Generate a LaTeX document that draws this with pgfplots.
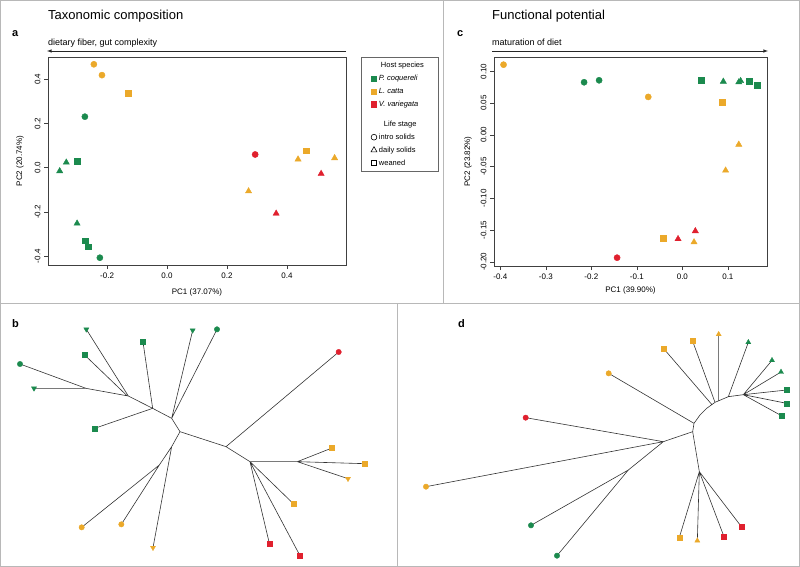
\documentclass[border=0pt]{standalone}
\usepackage{pgfplots}
\pgfplotsset{compat=1.18}
\usepackage{fontspec}
\setmainfont{Liberation Sans}
\definecolor{pgreen}{HTML}{1B8A4E}
\definecolor{lorange}{HTML}{EBA92A}
\definecolor{vred}{HTML}{E0202E}
\definecolor{framegray}{HTML}{B8B8B8}
\pgfplotsset{
  pca/.style={scale only axis, clip=false,
    axis line style={black!75, line width=0.6pt},
    tick style={black!75, line width=0.5pt},
    tick align=outside, major tick length=4pt, tick pos=left,
    tick label style={font=\fontsize{8}{9}\selectfont},
    label style={font=\fontsize{8}{9}\selectfont},
    /pgf/number format/assume math mode=true,
    yticklabel style={rotate=90, anchor=south},
  },
  gc/.style={only marks, forget plot, mark=*, mark size=3.1pt, color=pgreen},
  gs/.style={only marks, forget plot, mark=square*, mark size=2.9pt, color=pgreen},
  gt/.style={only marks, forget plot, mark=triangle*, mark size=3.6pt, color=pgreen},
  oc/.style={only marks, forget plot, mark=*, mark size=3.1pt, color=lorange},
  os/.style={only marks, forget plot, mark=square*, mark size=2.9pt, color=lorange},
  ot/.style={only marks, forget plot, mark=triangle*, mark size=3.6pt, color=lorange},
  rc/.style={only marks, forget plot, mark=*, mark size=3.1pt, color=vred},
  rs/.style={only marks, forget plot, mark=square*, mark size=2.9pt, color=vred},
  rt/.style={only marks, forget plot, mark=triangle*, mark size=3.6pt, color=vred},
  tree/.style={scale only axis, hide axis, clip=false, width=400pt, height=277pt,
    xmin=0, xmax=1200, ymin=-831, ymax=0},
  edge/.style={black!80, line width=0.6pt, unbounded coords=jump, forget plot, no marks},
}
\begin{document}
\begin{tikzpicture}
\useasboundingbox (0pt,0pt) rectangle (800pt,-567pt);
% frame
\draw[framegray, line width=0.8pt] (0.5pt,-0.5pt) rectangle (799.5pt,-566.5pt);
\draw[framegray, line width=0.8pt] (0pt,-303pt) -- (800pt,-303pt);
\draw[framegray, line width=0.8pt] (443pt,0pt) -- (443pt,-303pt);
\draw[framegray, line width=0.8pt] (397pt,-303pt) -- (397pt,-567pt);

% titles and letters
\node[anchor=base west, inner sep=0pt, font=\fontsize{13}{15}\selectfont] at (48pt,-20pt) {Taxonomic composition};
\node[anchor=base west, inner sep=0pt, font=\fontsize{13}{15}\selectfont] at (492pt,-20pt) {Functional potential};
\node[anchor=base west, inner sep=0pt, font=\bfseries\fontsize{11}{13}\selectfont] at (12pt,-37pt) {a};
\node[anchor=base west, inner sep=0pt, font=\bfseries\fontsize{11}{13}\selectfont] at (457pt,-37pt) {c};
\node[anchor=base west, inner sep=0pt, font=\bfseries\fontsize{11}{13}\selectfont] at (12pt,-327pt) {b};
\node[anchor=base west, inner sep=0pt, font=\bfseries\fontsize{11}{13}\selectfont] at (458pt,-327pt) {d};
\node[anchor=base west, inner sep=0pt, font=\fontsize{9}{11}\selectfont] at (48pt,-46pt) {dietary fiber, gut complexity};
\node[anchor=base west, inner sep=0pt, font=\fontsize{9}{11}\selectfont] at (492pt,-46pt) {maturation of diet};
\draw[black!85, line width=0.6pt, -latex] (346pt,-51pt) -- (47pt,-51pt);
\draw[black!85, line width=0.6pt, -latex] (492pt,-51pt) -- (768pt,-51pt);

% ---------- panel a ----------
\begin{axis}[pca, at={(48pt,-265pt)}, anchor=south west, width=298pt, height=208pt,
  xmin=-0.397, xmax=0.597, ymin=-0.440, ymax=0.501,
  xtick={-0.2,0,0.2,0.4}, ytick={-0.4,-0.2,0,0.2,0.4},
  xticklabel style={/pgf/number format/.cd, fixed, fixed zerofill, precision=1},
  yticklabel style={/pgf/number format/.cd, fixed, fixed zerofill, precision=1},
  xlabel={PC1 (37.07\%)}, ylabel={PC2 (20.74\%)},
  xlabel style={at={(axis description cs:0.5,-0.13)}, anchor=center},
  ylabel style={at={(axis description cs:-0.094,0.5)}, anchor=center, rotate=0},
  legend style={at={(1.05,1)}, anchor=north west, draw=black!60, line width=0.5pt,
    font=\fontsize{7.5}{9}\selectfont, cells={anchor=west}, row sep=2pt,
    inner xsep=4pt, inner ysep=3pt},
  legend image code/.code={\path (0cm,0cm); \draw[#1] plot coordinates {(0.3cm,0cm)};},
]
\addplot[gc] coordinates {(-0.274,0.231) (-0.224,-0.407)};
\addplot[gt] coordinates {(-0.336,0.024) (-0.358,-0.015) (-0.300,-0.252)};
\addplot[gs] coordinates {(-0.300,0.030) (-0.274,-0.330) (-0.263,-0.357)};
\addplot[oc] coordinates {(-0.244,0.468) (-0.217,0.419)};
\addplot[os] coordinates {(-0.130,0.338) (0.464,0.077)};
\addplot[ot] coordinates {(0.272,-0.106) (0.437,0.038) (0.559,0.044)};
\addplot[rc] coordinates {(0.294,0.060)};
\addplot[rt] coordinates {(0.364,-0.207) (0.514,-0.027)};
\addlegendimage{empty legend}\addlegendentry{\hspace{2pt}Host species}
\addlegendimage{mark=square*, mark size=2.6pt, color=pgreen}\addlegendentry{\textit{P. coquereli}}
\addlegendimage{mark=square*, mark size=2.6pt, color=lorange}\addlegendentry{\textit{L. catta}}
\addlegendimage{mark=square*, mark size=2.6pt, color=vred}\addlegendentry{\textit{V. variegata}\hspace*{14pt}}
\addlegendimage{empty legend}\addlegendentry{\rule{0pt}{12.5pt}\hspace{5pt}Life stage}
\addlegendimage{mark=o, mark size=2.9pt, black, line width=0.6pt}\addlegendentry{intro solids}
\addlegendimage{mark=triangle, mark size=3.4pt, black, line width=0.6pt}\addlegendentry{daily solids}
\addlegendimage{mark=square, mark size=2.7pt, black, line width=0.6pt}\addlegendentry{weaned}
\end{axis}

% ---------- panel c ----------
\begin{axis}[pca, at={(494pt,-266pt)}, anchor=south west, width=273pt, height=209pt,
  xmin=-0.414, xmax=0.186, ymin=-0.2066, ymax=0.1227,
  xtick={-0.4,-0.3,-0.2,-0.1,0,0.1}, ytick={-0.2,-0.15,-0.1,-0.05,0,0.05,0.1},
  xticklabel style={/pgf/number format/.cd, fixed, fixed zerofill, precision=1},
  yticklabel style={/pgf/number format/.cd, fixed, fixed zerofill, precision=2},
  xlabel={PC1 (39.90\%)}, ylabel={PC2 (23.82\%)},
  xlabel style={at={(axis description cs:0.5,-0.115)}, anchor=center},
  ylabel style={at={(axis description cs:-0.095,0.5)}, anchor=center, rotate=0},
]
\addplot[gc] coordinates {(-0.216,0.0829) (-0.183,0.086)};
\addplot[gs] coordinates {(0.0417,0.086) (0.146,0.084) (0.165,0.0787)};
\addplot[gt] coordinates {(0.090,0.084) (0.124,0.083) (0.128,0.085)};
\addplot[oc] coordinates {(-0.393,0.1106) (-0.075,0.0598)};
\addplot[os] coordinates {(0.0878,0.0509) (-0.042,-0.163)};
\addplot[ot] coordinates {(0.124,-0.0152) (0.095,-0.056) (0.0256,-0.169)};
\addplot[rc] coordinates {(-0.1435,-0.1935)};
\addplot[rt] coordinates {(0.0285,-0.1515) (-0.0095,-0.164)};
\end{axis}

% ---------- panel b (tree) ----------
\begin{axis}[tree, at={(0pt,-567pt)}, anchor=south west]
\addplot[edge] coordinates {
 (60,-222) (258,-295) (385,-318) (458,-355) (515,-385) (540,-425) (678,-470) (750,-515) (892,-515) (996,-474) (nan,nan)
 (102,-295) (258,-295) (nan,nan)
 (259,-118) (385,-318) (nan,nan)
 (254,-195) (380,-316) (nan,nan)
 (429,-156) (458,-355) (nan,nan)
 (284,-415) (458,-355) (nan,nan)
 (578,-121) (515,-385) (nan,nan)
 (651,-118) (515,-385) (nan,nan)
 (678,-470) (1016,-186) (nan,nan)
 (892,-515) (1095,-521) (nan,nan)
 (892,-515) (1044,-566) (nan,nan)
 (750,-515) (880,-641) (nan,nan)
 (750,-515) (808,-760) (nan,nan)
 (750,-515) (900,-797) (nan,nan)
 (540,-425) (515,-470) (459,-773) (nan,nan)
 (515,-470) (478,-525) (245,-712) (nan,nan)
 (478,-525) (364,-703)
};
\addplot[gt, mark size=2.9pt, mark options={rotate=180}] coordinates {(259,-118) (578,-121) (102,-295)};
\addplot[gc, mark size=2.7pt] coordinates {(651,-118) (60,-222)};
\addplot[gs, mark size=2.5pt] coordinates {(429,-156) (254,-195) (284,-415)};
\addplot[rc, mark size=2.7pt] coordinates {(1016,-186)};
\addplot[rs, mark size=2.5pt] coordinates {(808,-760) (900,-797)};
\addplot[os, mark size=2.5pt] coordinates {(996,-474) (1095,-521) (880,-641)};
\addplot[ot, mark size=2.9pt, mark options={rotate=180}] coordinates {(1044,-566) (459,-773)};
\addplot[oc, mark size=2.7pt] coordinates {(245,-712) (364,-703)};
\end{axis}

% ---------- panel d (tree) ----------
\begin{axis}[tree, at={(400pt,-567pt)}, anchor=south west]
\addplot[edge] coordinates {
 (878,-425) (882,-400) (900,-375) (920,-355) (945,-337) (985,-320) (1030,-314) (nan,nan)
 (882,-400) (626,-250) (nan,nan)
 (935,-343) (792,-177) (nan,nan)
 (945,-337) (877,-151) (nan,nan)
 (956,-332) (956,-133) (nan,nan)
 (985,-320) (1045,-157) (nan,nan)
 (1030,-314) (1116,-211) (nan,nan)
 (1030,-314) (1143,-246) (nan,nan)
 (1030,-314) (1160,-300) (nan,nan)
 (1030,-314) (1160,-340) (nan,nan)
 (1030,-314) (1146,-378) (nan,nan)
 (878,-425) (790,-455) (78,-590) (nan,nan)
 (790,-455) (377,-383) (nan,nan)
 (790,-455) (685,-540) (471,-797) (nan,nan)
 (685,-540) (393,-706) (nan,nan)
 (878,-425) (898,-545) (nan,nan)
 (898,-545) (1025,-711) (nan,nan)
 (898,-545) (972,-740) (nan,nan)
 (898,-545) (892,-752) (nan,nan)
 (898,-545) (838,-742)
};
\addplot[oc, mark size=2.7pt] coordinates {(78,-590) (626,-250)};
\addplot[rc, mark size=2.7pt] coordinates {(377,-383)};
\addplot[os, mark size=2.5pt] coordinates {(792,-177) (877,-151) (838,-742)};
\addplot[ot, mark size=2.9pt] coordinates {(956,-133) (892,-752)};
\addplot[gt, mark size=2.9pt] coordinates {(1045,-157) (1116,-211) (1143,-246)};
\addplot[gs, mark size=2.5pt] coordinates {(1160,-300) (1160,-340) (1146,-378)};
\addplot[rs, mark size=2.5pt] coordinates {(1025,-711) (972,-740)};
\addplot[gc, mark size=2.7pt] coordinates {(393,-706) (471,-797)};
\end{axis}
\end{tikzpicture}
\end{document}
